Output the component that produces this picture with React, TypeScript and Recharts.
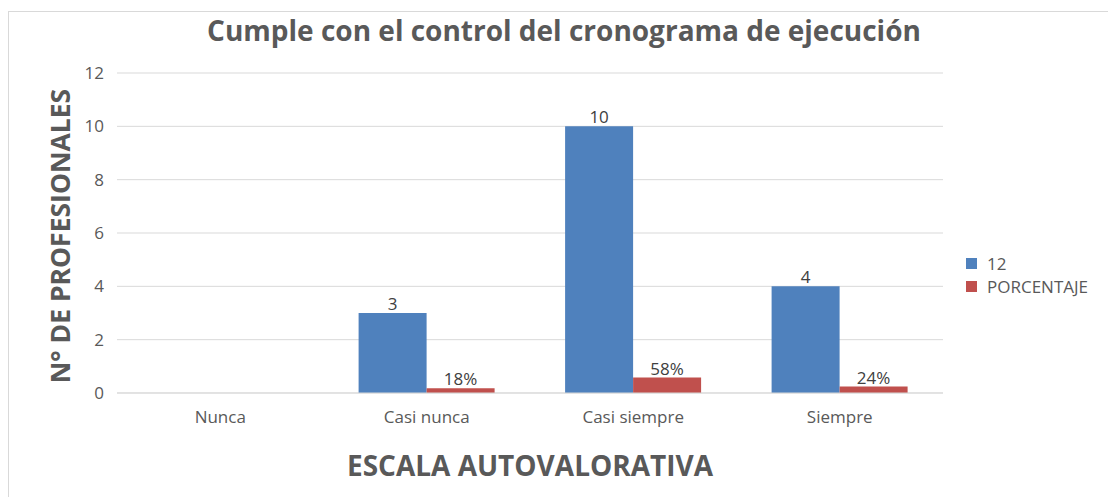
import React from "react";
import { BarChart, Bar, XAxis, YAxis, CartesianGrid, LabelList } from "recharts";

const categories = ["Nunca", "Casi nunca", "Casi siempre", "Siempre"];
const counts: (number | null)[] = [null, 3, 10, 4];
const percentages: (number | null)[] = [null, 0.18, 0.58, 0.24];
const yTicks = [0, 2, 4, 6, 8, 10, 12];
const seriesNames = ["12", "PORCENTAJE"];
const seriesColors = ["#4f81bd", "#c0504d"];

const data = categories.map((c, i) => ({ name: c, count: counts[i], pct: percentages[i] }));

const FONT = "'Open Sans', sans-serif";

export default function App() {
  return (
    <div style={{ position: "absolute", left: 0, top: 0, width: 1108, height: 497, background: "#fff", fontFamily: FONT, overflow: "hidden" }}>
      <div style={{ position: "absolute", left: 8, top: 11, width: 1110, height: 500, border: "1px solid #d9d9d9", boxSizing: "border-box" }} />
      <div style={{ position: "absolute", left: 0, top: 11, width: 1128, textAlign: "center", fontSize: 28, lineHeight: "38px", fontWeight: 700, color: "#595959", whiteSpace: "nowrap" }}>
        Cumple con el control del cronograma de ejecución
      </div>
      <div style={{ position: "absolute", left: 117, top: 446, width: 826, textAlign: "center", fontSize: 28, lineHeight: "38px", fontWeight: 700, color: "#595959", whiteSpace: "nowrap" }}>
        ESCALA AUTOVALORATIVA
      </div>
      <div style={{ position: "absolute", left: 60, top: 236, transform: "translate(-50%, -50%) rotate(-90deg)", whiteSpace: "nowrap", fontSize: 26.5, lineHeight: "36px", fontWeight: 700, color: "#595959" }}>
        N° DE PROFESIONALES
      </div>
      <div style={{ position: "absolute", left: 0, top: 0 }}>
        <BarChart width={1108} height={497} data={data} margin={{ top: 73, right: 165, bottom: 0, left: 0 }} barCategoryGap="17%" barGap={0}>
          <CartesianGrid vertical={false} stroke="#d9d9d9" />
          <XAxis dataKey="name" height={104} tickLine={false} tickSize={0} tickMargin={18} axisLine={{ stroke: "#d9d9d9" }} tick={{ fill: "#595959", fontSize: 17, fontFamily: FONT }} />
          <YAxis width={117} domain={[0, 12]} ticks={yTicks} axisLine={false} tickLine={false} tickSize={0} tickMargin={13} tick={{ fill: "#595959", fontSize: 17, fontFamily: FONT }} />
          <Bar dataKey="count" name={seriesNames[0]} fill={seriesColors[0]} isAnimationActive={false}>
            <LabelList dataKey="count" position="top" offset={3} fill="#404040" fontSize={17} fontFamily={FONT} />
          </Bar>
          <Bar dataKey="pct" name={seriesNames[1]} fill={seriesColors[1]} isAnimationActive={false}>
            <LabelList dataKey="pct" position="top" offset={3} fill="#404040" fontSize={17} fontFamily={FONT}
              formatter={(v: any) => (v == null ? "" : `${Math.round(v * 100)}%`)} />
          </Bar>
        </BarChart>
      </div>
      <div style={{ position: "absolute", left: 966, top: 252, fontSize: 17, color: "#595959" }}>
        {seriesNames.map((n, i) => (
          <div key={n} style={{ display: "flex", alignItems: "center", height: 23 }}>
            <span style={{ display: "inline-block", width: 11, height: 11, background: seriesColors[i], marginRight: 10 }} />
            <span>{n}</span>
          </div>
        ))}
      </div>
    </div>
  );
}
